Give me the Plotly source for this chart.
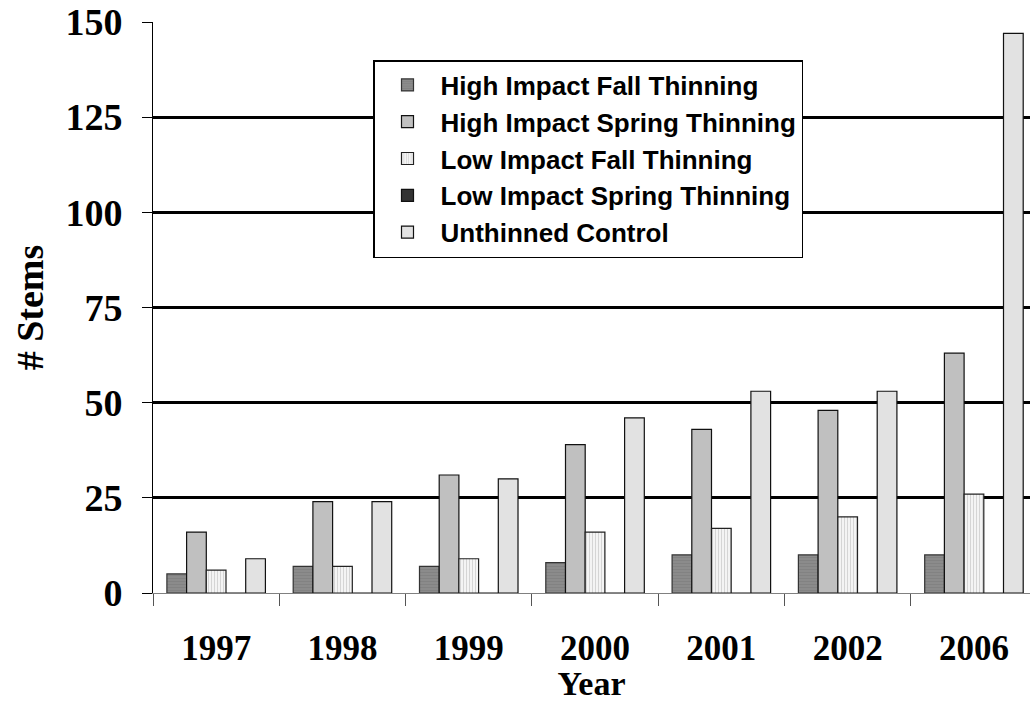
import plotly.graph_objects as go

years = ["1997", "1998", "1999", "2000", "2001", "2002", "2006"]
high_fall = [5, 7, 7, 8, 10, 10, 10]
high_spring = [16, 24, 31, 39, 43, 48, 63]
low_fall = [6, 7, 9, 16, 17, 20, 26]
low_spring = [0, 0, 0, 0, 0, 0, 0]
control = [9, 24, 30, 46, 53, 53, 147]

names = ["High Impact Fall Thinning", "High Impact Spring Thinning",
         "Low Impact Fall Thinning", "Low Impact Spring Thinning", "Unthinned Control"]
series = [high_fall, high_spring, low_fall, low_spring, control]

styles = [
    dict(color="#8a8a8a", line=dict(color="#333333", width=1.2),
         pattern=dict(shape="-", fgcolor="#777777", bgcolor="#8c8c8c", size=3, solidity=0.4)),
    dict(color="#c0c0c0", line=dict(color="#111111", width=1.2)),
    dict(color="#f2f2f2", line=dict(color="#222222", width=1.2),
         pattern=dict(shape="|", fgcolor="#b5b5b5", bgcolor="#f4f4f4", size=3, solidity=0.35)),
    dict(color="#333333", line=dict(color="#111111", width=1.2)),
    dict(color="#e2e2e2", line=dict(color="#111111", width=1.2)),
]

fig = go.Figure()
for i, (n, s, st) in enumerate(zip(names, series, styles)):
    fig.add_trace(go.Bar(x=years, y=s, name=n, marker=st, legendgroup=f"g{i}"))

W, H = 1030, 702
ml, mt, mb = 153, 22, 109
plot_w = W - ml
plot_h = H - mt - mb
cat_px = 126.3
x_end = -0.5 + plot_w / cat_px

fig.update_layout(
    width=W, height=H,
    margin=dict(l=ml, r=0, t=mt, b=mb, autoexpand=False),
    paper_bgcolor="white", plot_bgcolor="white",
    barmode="group", bargap=0.22, bargroupgap=0,
    font=dict(family="Liberation Serif", color="black"),
    showlegend=True,
    legend=dict(
        x=(373 - ml) / plot_w, y=(H - mb - 60) / plot_h,
        xanchor="left", yanchor="top",
        bgcolor="white", bordercolor="black", borderwidth=1.5,
        font=dict(family="Liberation Sans", size=26, color="black", weight="bold"),
        traceorder="grouped", tracegroupgap=0, itemwidth=56,
    ),
    xaxis=dict(
        type="category", range=[-0.5, x_end], automargin=False,
        showline=True, linecolor="#808080", linewidth=1,
        ticks="outside", tickson="boundaries", ticklen=12, tickcolor="#555555", tickwidth=1,
        tickfont=dict(family="Liberation Serif", size=35, color="black", weight="bold"),
        ticklabelstandoff=24,
        title=dict(text="Year", standoff=0,
                   font=dict(family="Liberation Serif", size=34, color="black", weight="bold")),
        showgrid=False,
    ),
    yaxis=dict(
        range=[0, 150], tickvals=[0, 25, 50, 75, 100, 125, 150], automargin=False,
        showline=True, linecolor="black", linewidth=1,
        ticks="outside", ticklen=10, tickcolor="black", tickwidth=1,
        tickfont=dict(family="Liberation Serif", size=38, color="black", weight="bold"),
        ticklabelstandoff=12,
        showgrid=True, gridcolor="black", gridwidth=3,
        zeroline=True, zerolinecolor="#808080", zerolinewidth=1,
        title=dict(text="# Stems", standoff=10,
                   font=dict(family="Liberation Serif", size=38, color="black", weight="bold")),
    ),
)

fig.write_html("out.html", config={"displayModeBar": False},
               post_script="document.body.style.margin='0px';")
